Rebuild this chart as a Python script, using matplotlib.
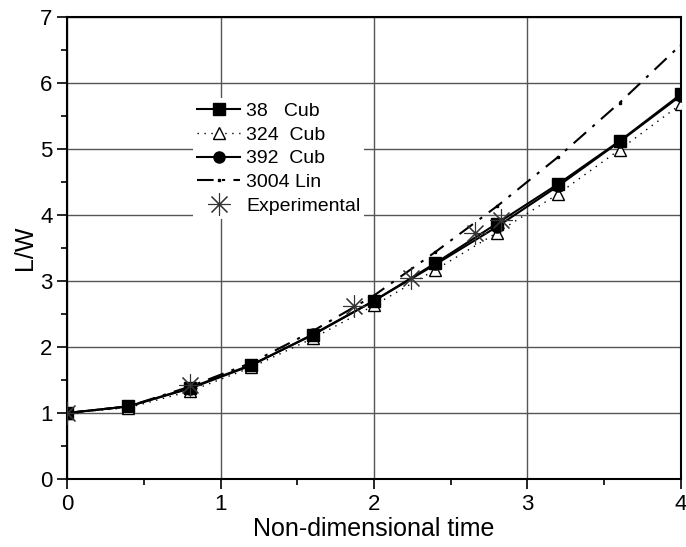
import matplotlib.pyplot as plt

plt.rcParams['font.family'] = ['Liberation Sans', 'DejaVu Sans']

# time samples
t = [0.0, 0.4, 0.8, 1.2, 1.6, 2.0, 2.4, 2.8, 3.2, 3.6, 4.0]

cub38 = [1.0, 1.10, 1.38, 1.73, 2.18, 2.70, 3.27, 3.87, 4.47, 5.12, 5.83]
cub324 = [1.0, 1.08, 1.33, 1.69, 2.13, 2.63, 3.17, 3.73, 4.32, 4.99, 5.68]
cub392 = [1.0, 1.10, 1.37, 1.72, 2.19, 2.70, 3.25, 3.82, 4.44, 5.11, 5.81]
lin3004 = [1.0, 1.10, 1.40, 1.76, 2.24, 2.78, 3.44, 4.13, 4.88, 5.70, 6.58]

exp_t = [0.0, 0.8, 1.87, 2.24, 2.66, 2.83]
exp_lw = [1.0, 1.42, 2.62, 3.05, 3.73, 3.92]

fig = plt.figure(figsize=(6.86, 5.47), dpi=100)
ax = fig.add_axes([0.0977, 0.1243, 0.895, 0.8447])

ax.plot(t, cub38, color='black', lw=1.5, marker='s', ms=8, label='38   Cub', zorder=4)
ax.plot(t, cub324, color='black', lw=1.0, ls=(0, (1, 4)), marker='^', ms=9,
        mfc='white', mec='black', label='324  Cub', zorder=3)
ax.plot(t, cub392, color='black', lw=1.5, marker='o', ms=8, label='392  Cub', zorder=4)
ax.plot(t, lin3004, color='black', lw=1.5, ls=(0, (8, 4, 1.5, 4)), marker='s', ms=2,
        label='3004 Lin', zorder=3)
ax.plot(exp_t, exp_lw, ls='none', marker=(8, 2, 0), ms=16, mew=0.8, color='#333333',
        label='Experimental', zorder=5)

ax.set_xlim(0, 4)
ax.set_ylim(0, 7)
ax.set_xticks([0, 1, 2, 3, 4])
ax.set_xticks([0.5, 1.5, 2.5, 3.5], minor=True)
ax.set_yticks(range(8))
ax.set_yticks([0.5, 1.5, 2.5, 3.5, 4.5, 5.5, 6.5], minor=True)
ax.tick_params(which='major', direction='out', length=7, width=1.2, labelsize=16)
ax.tick_params(which='minor', direction='out', length=4, width=1.2)
ax.grid(True, which='major', color='#555555', lw=1.0)
ax.set_axisbelow(True)
for s in ax.spines.values():
    s.set_linewidth(1.5)

ax.set_xlabel('Non-dimensional time', fontsize=18, labelpad=2)
ax.set_ylabel('L/W', fontsize=18, labelpad=2)

leg = ax.legend(loc='upper left', bbox_to_anchor=(0.19, 0.845), fontsize=14,
                frameon=True, edgecolor='none', facecolor='white', framealpha=1,
                fancybox=False, handlelength=2.2, handletextpad=0.3,
                labelspacing=0.32, borderpad=0.2)

plt.savefig('out.png', dpi=100)
